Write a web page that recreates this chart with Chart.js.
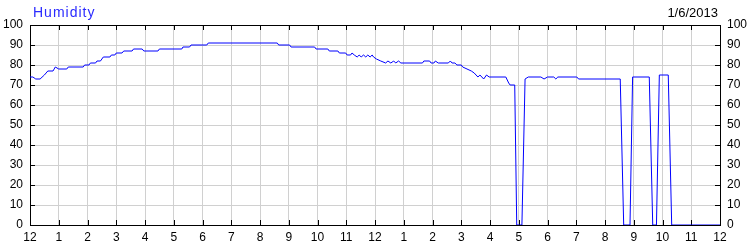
<!DOCTYPE html>
<html>
<head>
<meta charset="utf-8">
<script src="https://cdn.jsdelivr.net/npm/chart.js@4"></script>
<style>
body { margin: 0; background: #fff; }
#wrap { position: relative; width: 750px; height: 250px; }
#title { position: absolute; left: 33px; top: 5px; font: 14px "Liberation Sans", Arial, sans-serif; letter-spacing: 1px; line-height: 1; color: #2a2aff; }
#date { position: absolute; right: 32px; top: 6px; font: 13px "Liberation Sans", Arial, sans-serif; line-height: 1; color: #000; }
</style>
</head>
<body>
<div id="wrap">
  <canvas id="chart" width="750" height="250"></canvas>
  <div id="title">Humidity</div>
  <div id="date">1/6/2013</div>
</div>
<script>
// hours since midnight, humidity %
const hours = [
    0.00, 0.10, 0.20, 0.35, 0.50, 0.62, 0.80, 0.88, 1.00, 1.28, 1.33, 1.85, 1.90, 2.05, 2.10, 2.28,
    2.33, 2.45, 2.55, 2.78, 2.83, 2.95, 3.00, 3.20, 3.26, 3.55, 3.60, 3.90, 3.96, 4.45, 4.50, 5.28,
    5.32, 5.55, 5.60, 6.15, 6.20, 8.60, 8.65, 9.03, 9.08, 9.90, 9.95, 10.36, 10.41, 10.71, 10.76, 10.98,
    11.03, 11.15, 11.20, 11.28, 11.38, 11.45, 11.52, 11.60, 11.68, 11.75, 11.83, 11.90, 11.95, 12.05, 12.20, 12.37,
    12.45, 12.55, 12.65, 12.72, 12.82, 12.90, 13.65, 13.70, 13.90, 13.95, 14.05, 14.10, 14.20, 14.55, 14.62, 14.68,
    14.78, 14.85, 15.00, 15.05, 15.20, 15.35, 15.45, 15.58, 15.65, 15.78, 15.88, 15.97, 16.55, 16.65, 16.70, 16.86,
    16.93, 17.11, 17.22, 17.33, 17.77, 17.88, 18.00, 18.22, 18.29, 18.36, 19.02, 19.08, 20.53, 20.65, 20.87, 20.96,
    21.54, 21.66, 21.79, 21.89, 22.20, 22.32, 24.00
];
const humidity = [
    74, 74, 73, 73, 75, 77, 77, 79, 78, 78, 79, 79, 80, 80, 81, 81,
    82, 82, 84, 84, 85, 85, 86, 86, 87, 87, 88, 88, 87, 87, 88, 88,
    89, 89, 90, 90, 91, 91, 90, 90, 89, 89, 88, 88, 87, 87, 86, 86,
    85, 85, 86, 85, 84, 85, 84, 85, 84, 85, 84, 85, 84, 83, 82, 81,
    82, 81, 82, 81, 82, 81, 81, 82, 82, 81, 81, 82, 81, 81, 82, 81,
    81, 80, 80, 79, 78, 77, 76, 74, 75, 73, 75, 74, 74, 71, 70, 70,
    0, 0, 73, 74, 74, 73, 74, 74, 73, 74, 74, 73, 73, 0, 0, 74,
    74, 0, 0, 75, 75, 0, 0
];
const xTickLabels = ['12', '1', '2', '3', '4', '5', '6', '7', '8', '9', '10', '11',
                     '12', '1', '2', '3', '4', '5', '6', '7', '8', '9', '10', '11', '12'];
const yTicks = [0, 10, 20, 30, 40, 50, 60, 70, 80, 90, 100];

const font = { family: '"Liberation Sans", Arial, sans-serif', size: 12 };
const gridColor = '#d0d0d0';

// black frame with short inward tick marks
const frame = {
    id: 'frame',
    beforeDatasetsDraw(chart) {
        const { ctx, chartArea: a, scales } = chart;
        ctx.save();
        ctx.strokeStyle = '#000';
        ctx.lineWidth = 1;
        ctx.beginPath();
        scales.x.ticks.forEach(t => {
            const px = Math.round(scales.x.getPixelForValue(t.value)) + 0.5;
            ctx.moveTo(px, a.bottom); ctx.lineTo(px, a.bottom - 5);
            ctx.moveTo(px, a.top); ctx.lineTo(px, a.top + 5);
        });
        scales.y.ticks.forEach(t => {
            const py = Math.round(scales.y.getPixelForValue(t.value)) + 0.5;
            ctx.moveTo(a.left, py); ctx.lineTo(a.left + 5, py);
            ctx.moveTo(a.right, py); ctx.lineTo(a.right - 5, py);
        });
        ctx.stroke();
        ctx.strokeRect(Math.round(a.left) + 0.5, Math.round(a.top) + 0.5,
                       Math.round(a.right - a.left), Math.round(a.bottom - a.top));
        ctx.restore();
    }
};

const yAxis = (pos) => ({
    position: pos,
    min: 0,
    max: 100,
    afterBuildTicks: s => { s.ticks = yTicks.map(v => ({ value: v })); },
    afterFit: s => { s.width = 30; },
    ticks: { padding: 7, color: '#000', font: font },
    grid: { display: pos === 'left', color: gridColor, drawTicks: false },
    border: { display: false }
});

new Chart(document.getElementById('chart'), {
    type: 'line',
    data: {
        datasets: [{
            data: hours.map((h, i) => ({ x: h, y: humidity[i] })),
            borderColor: '#0000ff',
            borderWidth: 1,
            pointRadius: 0,
            tension: 0,
            fill: false
        }]
    },
    options: {
        responsive: false,
        animation: false,
        layout: { padding: { top: 25, left: 0, right: 0, bottom: 0 } },
        plugins: { legend: { display: false }, tooltip: { enabled: false }, title: { display: false } },
        scales: {
            x: {
                type: 'linear',
                min: 0,
                max: 24,
                afterBuildTicks: s => { s.ticks = xTickLabels.map((l, i) => ({ value: i })); },
                afterFit: s => { s.height = 25; },
                ticks: { autoSkip: false, maxRotation: 0, padding: 5, color: '#000', font: font,
                         callback: v => xTickLabels[v] },
                grid: { color: gridColor, drawTicks: false },
                border: { display: false }
            },
            y: yAxis('left'),
            y2: yAxis('right')
        }
    },
    plugins: [frame]
});
</script>
</body>
</html>
